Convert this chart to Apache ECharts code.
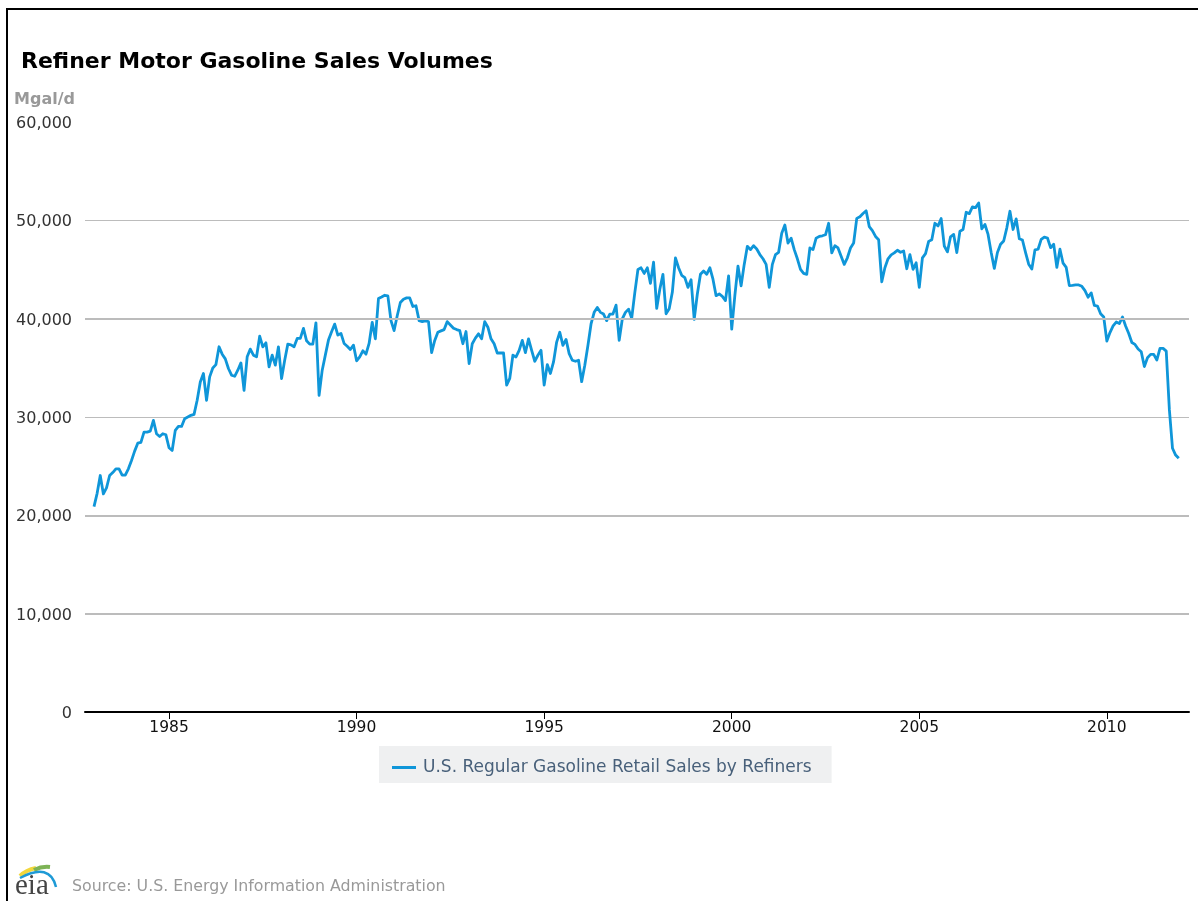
<!DOCTYPE html>
<html>
<head>
<meta charset="utf-8">
<title>Refiner Motor Gasoline Sales Volumes</title>
<script src="https://cdn.jsdelivr.net/npm/echarts@6/dist/echarts.min.js"></script>
<style>
  html, body { margin: 0; padding: 0; background: #fff; }
  #chart { width: 1198px; height: 901px; }
</style>
</head>
<body>
<div id="chart"></div>
<script>
const chartTitle = 'Refiner Motor Gasoline Sales Volumes';
const unitLabel = 'Mgal/d';
const seriesName = 'U.S. Regular Gasoline Retail Sales by Refiners';
const sourceNote = 'Source: U.S. Energy Information Administration';
const firstYear = 1983;
const yearTicks = [1985, 1990, 1995, 2000, 2005, 2010];
// Grid levels drawn with a heavier rule.
const heavyGridLevels = [10000, 20000, 40000];

// Monthly volumes in thousand gallons per day, one row per year from 1983.
const monthlySales = [
  20880,22240,24050,22180,22790,24050,24350,24730,24730,24080,24080,24730,
  25580,26530,27340,27410,28470,28470,28570,29660,28300,28020,28300,28190,
  26870,26600,28640,29040,29040,29830,30000,30170,30270,31700,33570,34420,
  31700,34080,34990,35330,37140,36390,35910,34930,34250,34140,34760,35500,
  32720,36120,36900,36290,36120,38220,37140,37540,35100,36290,35270,37140,
  33910,35780,37410,37340,37140,37990,37990,39010,37750,37410,37410,39580,
  32200,34760,36290,37820,38670,39450,38330,38500,37480,37200,36860,37310,
  35710,36120,36730,36390,37480,39630,37950,42050,42210,42380,42320,39800,
  38790,40300,41640,41980,42110,42110,41240,41310,39800,39700,39770,39700,
  36540,37790,38620,38760,38890,39700,39360,39030,38890,38790,37450,38690,
  35440,37450,38020,38460,37950,39700,39130,37950,37450,36510,36510,36510,
  33250,33930,36280,36110,36780,37790,36540,37950,36780,35670,36280,36780,
  33250,35330,34430,35600,37620,38620,37280,37890,36440,35770,35670,35770,
  33590,35270,37280,39460,40640,41140,40640,40470,39800,40470,40470,41380,
  37790,39970,40640,40970,40030,42650,45000,45170,44600,45170,43590,45740,
  41040,42990,44510,40500,41000,42680,46190,45180,44410,44180,43180,43950,
  39930,42510,44510,44850,44510,45180,44010,42340,42510,42270,41840,44350,
  38930,42340,45350,43340,45520,47360,47020,47420,47090,46520,46090,45520,
  43180,45520,46520,46750,48690,49530,47690,48190,47020,46090,45020,44610,
  44510,47190,47020,48190,48360,48430,48530,49700,46690,47420,47190,46350,
  45520,46190,47190,47690,50200,50370,50700,50970,49360,48960,48360,48030,
  43750,45180,46090,46490,46690,46960,46750,46890,45080,46520,45020,45680,
  43180,46190,46620,47860,48030,49700,49430,50180,47390,46790,48330,48570,
  46720,48900,49070,50820,50680,51360,51290,51760,49140,49580,48570,46720,
  45110,46720,47560,47900,49240,50920,49070,50150,48130,48000,46720,45540,
  45040,46990,47060,48060,48300,48200,47220,47560,45210,47060,45640,45210,
  43360,43390,43430,43430,43290,42860,42180,42620,41340,41280,40500,40170,
  37720,38590,39260,39660,39500,40170,39260,38490,37580,37380,36910,36640,
  35130,36030,36370,36370,35800,36980,36980,36700,30750,26820,26130,25800
];

const points = monthlySales.map((v, i) => [firstYear + i / 12, v]);
const textFont = '"DejaVu Sans", sans-serif';

const chart = echarts.init(document.getElementById('chart'), null, { renderer: 'canvas' });
chart.setOption({
  animation: false,
  backgroundColor: '#ffffff',
  title: [
    { text: chartTitle, left: 21, top: 51, padding: 0,
      textStyle: { color: '#000', fontFamily: textFont, fontSize: 22, fontWeight: 'bold' } },
    { text: unitLabel, left: 14, top: 92, padding: 0,
      textStyle: { color: '#999', fontFamily: textFont, fontSize: 16, fontWeight: 'bold' } },
    { text: sourceNote, left: 72, top: 879, padding: 0,
      textStyle: { color: '#999', fontFamily: textFont, fontSize: 15.8, fontWeight: 'normal' } }
  ],
  legend: {
    left: 379, top: 746,
    padding: [13, 20, 7, 13],
    backgroundColor: '#eff0f1',
    icon: 'rect',
    itemWidth: 24, itemHeight: 3, itemGap: 6,
    textStyle: { color: '#48607a', fontFamily: textFont, fontSize: 17, padding: [0, 0, 0, 2] },
    data: [seriesName]
  },
  grid: { left: 85, right: 9, top: 122, height: 590 },
  xAxis: {
    type: 'value',
    min: 1982.76,
    max: 2012.19,
    splitLine: { show: false },
    axisLine: { show: true, lineStyle: { color: '#000', width: 2 } },
    axisTick: { show: true, length: 7, customValues: yearTicks, lineStyle: { color: '#000', width: 1 } },
    axisLabel: {
      customValues: yearTicks,
      color: '#111', fontFamily: textFont, fontSize: 15.5, margin: 8,
      formatter: v => String(v)
    }
  },
  yAxis: {
    type: 'value',
    min: 0,
    max: 60000,
    interval: 10000,
    axisLine: { show: false },
    axisTick: { show: false },
    splitLine: { show: true, showMinLine: false, showMaxLine: false, lineStyle: { color: '#bcbcbc', width: 1 } },
    axisLabel: {
      color: '#333', fontFamily: textFont, fontSize: 16, margin: 13,
      // a short top-aligned line box sits each label just below its rule
      verticalAlign: 'top', lineHeight: 4,
      formatter: v => v.toLocaleString('en-US')
    }
  },
  series: [
    {
      name: 'grid rules',
      type: 'line',
      z: 1,
      data: [],
      silent: true,
      markLine: {
        silent: true,
        symbol: 'none',
        label: { show: false },
        lineStyle: { color: '#bcbcbc', width: 2, type: 'solid' },
        data: heavyGridLevels.map(v => ({ yAxis: v }))
      }
    },
    {
      name: seriesName,
      type: 'line',
      z: 3,
      data: points,
      showSymbol: false,
      symbol: 'none',
      smooth: false,
      lineStyle: { color: '#0f96d9', width: 2.8, join: 'round' },
      itemStyle: { color: '#0f96d9' }
    }
  ],
  graphic: [
    // page frame along the top and left edges
    { type: 'rect', shape: { x: 6, y: 8, width: 1192, height: 2 }, style: { fill: '#000' } },
    { type: 'rect', shape: { x: 6, y: 8, width: 2, height: 893 }, style: { fill: '#000' } },
    // agency mark beside the source note
    { type: 'bezierCurve', shape: { x1: 20, y1: 876, cpx1: 26, cpy1: 870, x2: 36, y2: 868 },
      style: { fill: 'none', stroke: '#f2d73c', lineWidth: 4 } },
    { type: 'bezierCurve', shape: { x1: 34, y1: 870, cpx1: 42, cpy1: 866, x2: 50, y2: 867 },
      style: { fill: 'none', stroke: '#7db356', lineWidth: 4 } },
    { type: 'bezierCurve', shape: { x1: 20, y1: 878, cpx1: 50, cpy1: 862, x2: 56, y2: 887 },
      style: { fill: 'none', stroke: '#1e9ad6', lineWidth: 2.5 } },
    { type: 'text', x: 15, y: 872, style: { text: 'eia', fill: '#444', font: '29px "Liberation Serif", serif' } }
  ]
});
</script>
</body>
</html>
